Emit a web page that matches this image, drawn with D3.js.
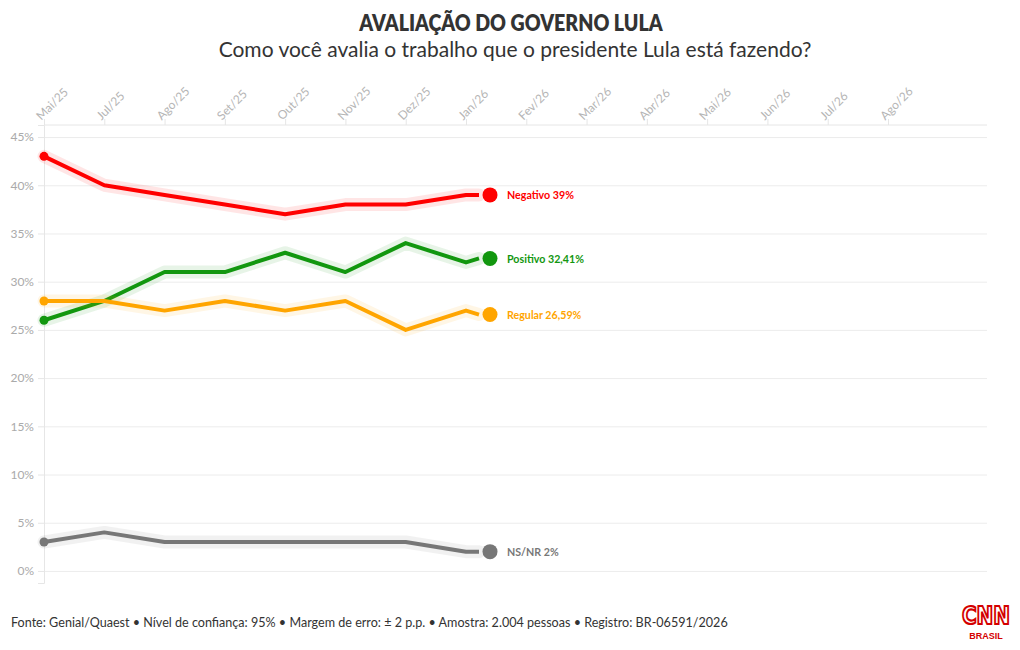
<!DOCTYPE html>
<html>
<head>
<meta charset="utf-8">
<script src="https://cdn.jsdelivr.net/npm/d3@7"></script>
<style>
  body { margin: 0; background: #fff; }
  svg { display: block; font-family: "Source Sans Pro", Lato, "Noto Sans", sans-serif; }
</style>
</head>
<body>
<svg id="chart" width="1020" height="650"></svg>
<script>
// tick labels of the top axis (survey months + empty future months)
const months = ["Mai/25", "Jul/25", "Ago/25", "Set/25", "Out/25", "Nov/25", "Dez/25", "Jan/26",
                "Fev/26", "Mar/26", "Abr/26", "Mai/26", "Jun/26", "Jul/26", "Ago/26"];
const surveyMonths = months.slice(0, 8);

// values in %
const negativo = [43, 40, 39, 38, 37, 38, 38, 39];
const positivo = [26, 28, 31, 31, 33, 31, 34, 32];
const regular  = [28, 28, 27, 28, 27, 28, 25, 27];
const nsnr     = [3, 4, 3, 3, 3, 3, 3, 2];

// latest reading shown next to the end dot
const latest = [39, 32.41, 26.59, 2];
const seriesNames = ["Negativo", "Positivo", "Regular", "NS/NR"];
const latestLabels = ["39%", "32,41%", "26,59%", "2%"];
const yTicks = [0, 5, 10, 15, 20, 25, 30, 35, 40, 45];

const colors = ["#ff0000", "#12970f", "#ffa500", "#777777"];
const series = [negativo, positivo, regular, nsnr];

// squeeze a text a bit, the original uses a narrower face
function condense(sel, k) {
    sel.each(function() {
        let w = this.getComputedTextLength();
        d3.select(this).attr("textLength", w * k).attr("lengthAdjust", "spacingAndGlyphs");
    });
}

function draw() {
    let svg = d3.select("#chart");
    svg.selectAll("*").remove();

    let left = 44, right = 987, top = 125, bottom = 583;

    let x = d3.scalePoint().domain(months).range([left, 888]);
    let y = d3.scaleLinear().domain([-1.25, 46.25]).range([bottom, top]);

    // title
    svg.append("text")
        .attr("x", 511).attr("y", 31)
        .attr("text-anchor", "middle")
        .attr("font-size", 22).attr("font-weight", 800)
        .attr("fill", "#333")
        .text("AVALIAÇÃO DO GOVERNO LULA")
        .call(condense, 0.89);
    svg.append("text")
        .attr("x", 515).attr("y", 57)
        .attr("text-anchor", "middle")
        .attr("font-size", 21)
        .attr("fill", "#333")
        .text("Como você avalia o trabalho que o presidente Lula está fazendo?");

    // horizontal gridlines
    svg.append("g")
        .attr("transform", `translate(${left},0)`)
        .call(d3.axisLeft(y).tickValues(yTicks).tickSize(-(right - left)).tickFormat(""))
        .call(g => g.select(".domain").remove())
        .call(g => g.selectAll("line").attr("stroke", "#ececec"));

    // y axis
    svg.append("g")
        .attr("transform", `translate(${left},0)`)
        .call(d3.axisLeft(y).tickValues(yTicks).tickSize(6).tickPadding(4).tickFormat(d => d + "%"))
        .call(g => g.select(".domain").attr("stroke", "#e6e6e6"))
        .call(g => g.selectAll("line").attr("stroke", "#e6e6e6"))
        .call(g => g.selectAll("text").attr("fill", "#aaa").attr("font-size", 12)
            .attr("font-family", "\"Source Sans Pro\", Lato, sans-serif"));

    // top x axis
    svg.append("g")
        .attr("transform", `translate(0,${top})`)
        .call(d3.axisTop(x).tickSize(6).tickSizeOuter(0))
        .call(g => g.select(".domain").attr("d", `M${left},0H${right}`).attr("stroke", "#e6e6e6"))
        .call(g => g.selectAll("line").attr("stroke", "#e6e6e6"))
        .call(g => g.selectAll("text")
            .attr("fill", "#b5b5b5").attr("font-size", 12)
            .attr("font-family", "\"Source Sans Pro\", Lato, sans-serif")
            .attr("text-anchor", "start")
            .attr("transform", "translate(-5,-6) rotate(-45)")
            .attr("dy", "0.2em").attr("y", 0).attr("x", 0));

    let line = d3.line()
        .x(d => d[0])
        .y(d => y(d[1]))
        .curve(d3.curveLinear);

    let xLast = x(surveyMonths[surveyMonths.length - 1]);

    series.forEach((vals, i) => {
        let pts = vals.map((v, j) => [x(surveyMonths[j]), v]);
        pts.push([xLast + 13, latest[i]]);
        let g = svg.append("g");

        // soft halo
        g.append("path")
            .datum(pts)
            .attr("fill", "none")
            .attr("stroke", colors[i])
            .attr("stroke-opacity", 0.1)
            .attr("stroke-width", 13)
            .attr("stroke-linejoin", "round")
            .attr("stroke-linecap", "round")
            .attr("d", line);

        g.append("path")
            .datum(pts)
            .attr("fill", "none")
            .attr("stroke", colors[i])
            .attr("stroke-width", 4)
            .attr("stroke-linejoin", "round")
            .attr("d", line);

        // start dot
        g.append("circle")
            .attr("cx", x(surveyMonths[0]))
            .attr("cy", y(vals[0]))
            .attr("r", 4.5)
            .attr("fill", colors[i]);

        // end dot
        g.append("circle")
            .attr("cx", xLast + 24)
            .attr("cy", y(latest[i]))
            .attr("r", 7.5)
            .attr("fill", colors[i]);

        g.append("text")
            .attr("x", xLast + 41)
            .attr("y", y(latest[i]))
            .attr("dy", "0.35em")
            .attr("font-size", 12)
            .attr("font-weight", 700)
            .attr("fill", colors[i])
            .text(`${seriesNames[i]} ${latestLabels[i]}`)
            .call(condense, 0.89);
    });

    // footer
    svg.append("text")
        .attr("x", 11).attr("y", 627)
        .attr("font-size", 13.5)
        .attr("fill", "#333")
        .text("Fonte: Genial/Quaest • Nível de confiança: 95% • Margem de erro: ± 2 p.p. • Amostra: 2.004 pessoas • Registro: BR-06591/2026")
        .call(condense, 0.932);

    // CNN Brasil mark
    let logo = svg.append("g").attr("transform", "translate(986,0)");
    logo.append("text")
        .attr("transform", "translate(0,624) scale(0.8,1)")
        .attr("text-anchor", "middle")
        .attr("font-family", "\"DejaVu Sans\", sans-serif")
        .attr("font-size", 25).attr("font-weight", 700)
        .attr("fill", "#fff")
        .attr("stroke", "#d40000").attr("stroke-width", 2.2)
        .text("CNN");
    logo.append("text")
        .attr("x", 0).attr("y", 639)
        .attr("text-anchor", "middle")
        .attr("font-family", "\"Liberation Sans\", sans-serif")
        .attr("font-size", 9).attr("font-weight", 700)
        .attr("fill", "#d40000")
        .text("BRASIL");
}

draw();
</script>
</body>
</html>
